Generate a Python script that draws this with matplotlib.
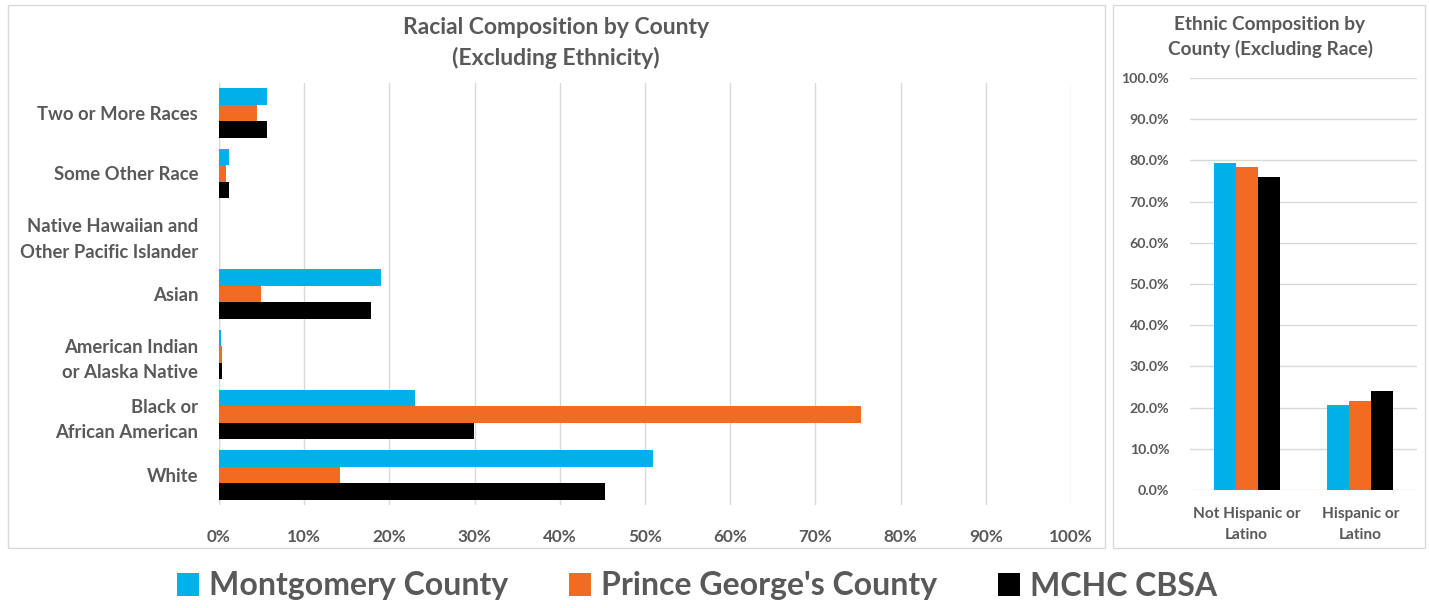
import numpy as np
import matplotlib
matplotlib.use('Agg')
import matplotlib.pyplot as plt
from matplotlib.patches import Rectangle, Patch
from matplotlib.ticker import PercentFormatter

plt.rcParams['font.family'] = ['Lato', 'DejaVu Sans']
plt.rcParams['font.weight'] = 'bold'

# -----------------------------------------------------------------------------
# data
# -----------------------------------------------------------------------------
series = ['Montgomery County', "Prince George's County", 'MCHC CBSA']
colores = ['#00B0E8', '#F26B22', '#000000']

razas = ['White', 'Black or\nAfrican American', 'American Indian\nor Alaska Native',
         'Asian', 'Native Hawaiian and\nOther Pacific Islander',
         'Some Other Race', 'Two or More Races']
montgomery_raza = [50.9, 23.0, 0.2, 19.0, 0.05, 1.2, 5.6]
pg_raza = [14.2, 75.4, 0.3, 4.9, 0.05, 0.8, 4.5]
mchc_raza = [45.3, 29.9, 0.3, 17.8, 0.05, 1.2, 5.6]

etnias = ['Not Hispanic or\nLatino', 'Hispanic or\nLatino']
montgomery_etnia = [79.4, 20.6]
pg_etnia = [78.3, 21.7]
mchc_etnia = [76.0, 24.0]

GRIS = '#595959'
W, H = 1429, 608

fig = plt.figure(figsize=(W / 100, H / 100), dpi=100)


def px(x0, y0, x1, y1):
    # rect en pixeles (arriba-izquierda) -> coordenadas de figura
    return [x0 / W, 1 - y1 / H, (x1 - x0) / W, (y1 - y0) / H]


# marcos de los dos paneles
for (x0, y0, x1, y1) in [(8, 5, 1105, 548), (1113, 5, 1425, 548)]:
    fig.patches.append(Rectangle((x0 / W, 1 - y1 / H), (x1 - x0) / W, (y1 - y0) / H,
                                 transform=fig.transFigure, fill=False,
                                 edgecolor='#d9d9d9', linewidth=1))

# -----------------------------------------------------------------------------
# panel izquierdo: barras horizontales
# -----------------------------------------------------------------------------
ax1 = fig.add_axes(px(219, 83, 1071, 505))
y = np.arange(len(razas))
h = 0.274
for k, (vals, col) in enumerate(zip([montgomery_raza, pg_raza, mchc_raza], colores)):
    ax1.barh(y + (1 - k) * h, vals, height=h, color=col, zorder=3)

ax1.set_xlim(0, 100)
ax1.set_ylim(-0.5, len(razas) - 0.5)
ax1.set_xticks(np.arange(0, 101, 10))
ax1.xaxis.set_major_formatter(PercentFormatter(decimals=0))
ax1.set_yticks(y)
ax1.set_yticklabels(razas, fontsize=13.3, color=GRIS, linespacing=1.6)
ax1.tick_params(axis='x', labelsize=12.3, colors=GRIS, length=0, pad=17)
ax1.tick_params(axis='y', length=0, pad=15)
ax1.grid(axis='x', color='#d9d9d9', linewidth=1, zorder=0)
for s in ax1.spines.values():
    s.set_visible(False)
ax1.axvline(0, color='#d9d9d9', linewidth=1, zorder=1)
fig.text(556 / W, 1 - 43 / H, 'Racial Composition by County\n(Excluding Ethnicity)',
         ha='center', va='center', fontsize=16.5, color=GRIS, linespacing=1.45)

# -----------------------------------------------------------------------------
# panel derecho: columnas
# -----------------------------------------------------------------------------
ax2 = fig.add_axes(px(1190, 78, 1417, 490))
x = np.arange(len(etnias))
w = 0.194
for k, (vals, col) in enumerate(zip([montgomery_etnia, pg_etnia, mchc_etnia], colores)):
    ax2.bar(x + (k - 1) * w, vals, width=w, color=col, zorder=3)

ax2.set_ylim(0, 100)
ax2.set_xlim(-0.5, len(etnias) - 0.5)
ax2.set_yticks(np.arange(0, 101, 10))
ax2.yaxis.set_major_formatter(PercentFormatter(decimals=1))
ax2.set_xticks(x)
ax2.set_xticklabels(etnias, fontsize=11.1, color=GRIS, linespacing=1.7)
ax2.tick_params(axis='y', labelsize=10.2, colors=GRIS, length=0, pad=15)
ax2.tick_params(axis='x', length=0, pad=12)
ax2.grid(axis='y', color='#d9d9d9', linewidth=1, zorder=0)
for s in ax2.spines.values():
    s.set_visible(False)
fig.text(1270 / W, 1 - 37 / H, 'Ethnic Composition by\nCounty (Excluding Race)',
         ha='center', va='center', fontsize=13.7, color=GRIS, linespacing=1.47)

# -----------------------------------------------------------------------------
# leyenda
# -----------------------------------------------------------------------------
handles = [Patch(facecolor=c, edgecolor='none') for c in colores]
fig.legend(handles, series, loc='center', bbox_to_anchor=(697 / W, 1 - 586 / H),
           ncol=3, frameon=False, fontsize=23, labelcolor=GRIS,
           handlelength=0.7, handleheight=0.7, handletextpad=0.3,
           columnspacing=1.9, borderpad=0)

fig.savefig('out.png', dpi=100)
